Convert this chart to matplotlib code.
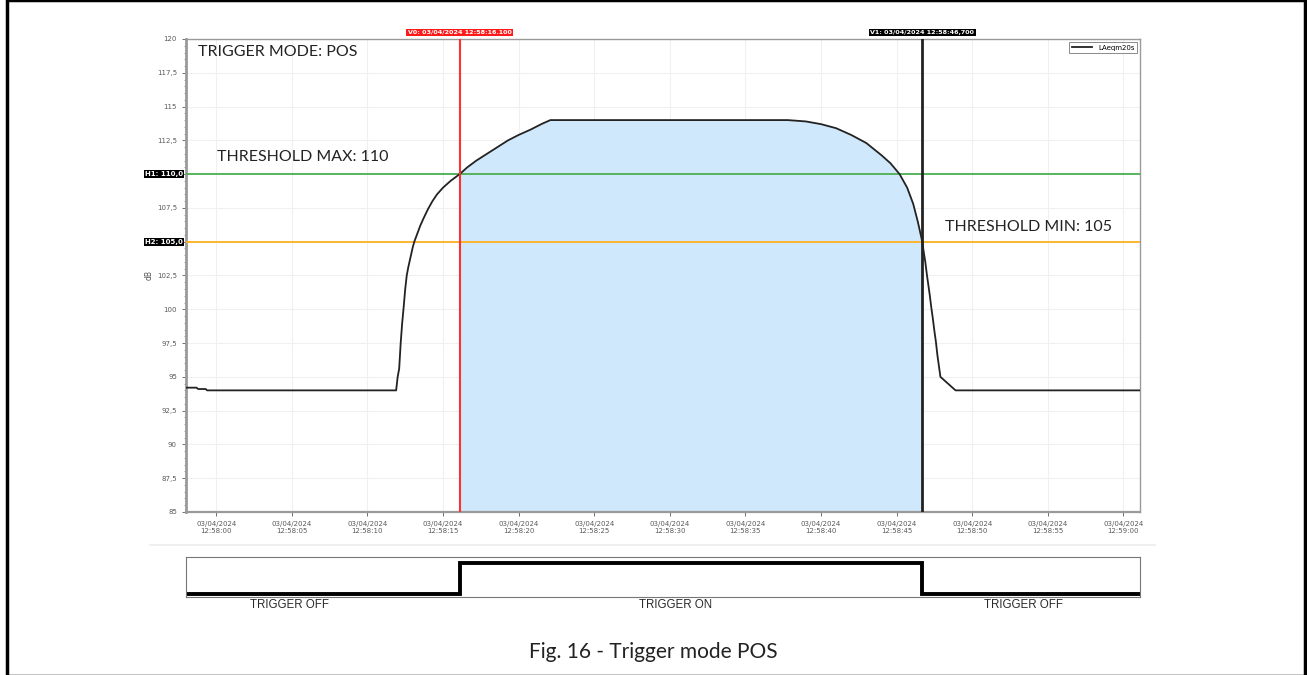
import numpy as np
import matplotlib
matplotlib.use("Agg")
import matplotlib.pyplot as plt
from matplotlib.ticker import MultipleLocator, FuncFormatter
from matplotlib.patches import Rectangle
from matplotlib.lines import Line2D

# seconds after 03/04/2024 12:58:00
t = [-2.0, -1.3, -1.2, -0.7, -0.6, 11.9, 12.0, 12.1, 12.2, 12.3, 12.4, 12.5,
     12.6, 12.7, 12.8, 12.9, 13.0, 13.1, 13.3, 13.5, 13.7, 14.0, 14.3, 14.6,
     15.0, 15.5, 16.1, 16.6, 17.2, 17.9, 18.6, 19.3, 20.0, 20.8, 21.5, 22.1,
     37.8, 39.0, 40.0, 41.0, 42.0, 43.0, 44.0, 44.6, 45.2,
     45.7, 46.1, 46.4, 46.7, 46.8, 46.9, 47.0, 47.1, 47.2, 47.3, 47.4,
     47.5, 47.6, 47.7, 47.8, 47.9, 48.9, 61.2]
laeq = [94.2, 94.2, 94.1, 94.1, 94.0, 94.0, 95.0, 95.6, 97.5, 99.0, 100.2, 101.5,
        102.5, 103.1, 103.6, 104.1, 104.6, 105.0, 105.6, 106.2, 106.7, 107.4, 108.0, 108.5,
        109.0, 109.5, 110.0, 110.5, 111.0, 111.5, 112.0, 112.5, 112.9, 113.3, 113.7, 114.0,
        114.0, 113.9, 113.7, 113.4, 112.9, 112.3, 111.4, 110.8, 110.0,
        109.0, 107.8, 106.5, 105.0, 104.2, 103.5, 102.6, 101.8, 101.0, 100.1, 99.3,
        98.4, 97.6, 96.6, 95.8, 95.0, 94.0, 94.0]

thr_max = 110
thr_min = 105
v0 = 16.1   # 12:58:16.100
v1 = 46.7   # 12:58:46.700
x_ticks = list(range(0, 61, 5))
y_ticks = [85, 87.5, 90, 92.5, 95, 97.5, 100, 102.5, 105, 107.5, 110, 112.5, 115, 117.5, 120]

W, H = 1307, 675
fig = plt.figure(figsize=(W / 100, H / 100), dpi=100)

def fx(px):
    return px / W

def fy(py):
    return 1 - py / H

# outer frame
fig.patches.append(Rectangle((fx(7), fy(676)), fx(1298), 676 / H, transform=fig.transFigure,
                             fill=False, lw=2.5, ec="black"))

ax = fig.add_axes([fx(186), fy(512), fx(1140 - 186), (512 - 39) / H])
ax.set_xlim(-2.0, 61.1)
ax.set_ylim(85, 120)

# shaded trigger-on area
tt = np.linspace(v0, v1, 400)
ax.fill_between(tt, 85, np.interp(tt, t, laeq), color="#cfe8fb", lw=0, zorder=1)

ax.plot(t, laeq, color="#222222", lw=1.3, zorder=4, label="LAeqm20s")
ax.axhline(thr_max, color="#4caf50", lw=1.3, zorder=3)
ax.axhline(thr_min, color="#ffb020", lw=1.3, zorder=3)
ax.axvline(v0, color="#ff3030", lw=1.5, zorder=5)
ax.axvline(v1, color="#222222", lw=2.0, zorder=5)

def ylab(v, p):
    # threshold values are covered by the H1/H2 markers
    if v in (thr_max, thr_min):
        return ""
    return ("%g" % v).replace(".", ",")

ax.set_xticks(x_ticks)
ax.set_yticks(y_ticks)
ax.yaxis.set_minor_locator(MultipleLocator(0.5))
ax.xaxis.set_major_formatter(FuncFormatter(
    lambda v, p: "03/04/2024\n12:%02d:%02d" % (58 + int(v) // 60, int(v) % 60)))
ax.yaxis.set_major_formatter(FuncFormatter(ylab))
ax.tick_params(axis="both", labelsize=5, colors="#5a5a5a", length=3, width=0.6)
ax.tick_params(axis="y", which="minor", length=1.5, width=0.5, colors="#777777")
ax.grid(True, color="#f0f0f0", lw=0.8, zorder=0)
ax.set_axisbelow(True)
for name, sp in ax.spines.items():
    sp.set_color("#9a9a9a")
    sp.set_linewidth(1.0)
ax.spines["left"].set_linewidth(2.0)
ax.spines["bottom"].set_linewidth(1.6)
ax.set_ylabel("dB", fontsize=5.5, color="#555555", labelpad=2)

leg = ax.legend(loc="upper right", fontsize=5, frameon=True, fancybox=False,
                handlelength=3, borderpad=0.3, borderaxespad=0.5)
leg.get_frame().set_edgecolor("#555555")
leg.get_frame().set_linewidth(0.6)

ax.text(v0, 120.3, "V0: 03/04/2024 12:58:16.100", color="white", fontsize=4.6, weight="bold",
        ha="center", va="bottom", zorder=6, bbox=dict(boxstyle="square,pad=0.2", fc="#ff1a1a", ec="none"))
ax.text(v1, 120.3, "V1: 03/04/2024 12:58:46,700", color="white", fontsize=4.6, weight="bold",
        ha="center", va="bottom", zorder=6, bbox=dict(boxstyle="square,pad=0.2", fc="black", ec="none"))
ax.text(-2.2, thr_max, "H1: 110,0", color="white", fontsize=5, weight="bold", ha="right", va="center",
        bbox=dict(boxstyle="square,pad=0.15", fc="black", ec="none"), clip_on=False)
ax.text(-2.2, thr_min, "H2: 105,0", color="white", fontsize=5, weight="bold", ha="right", va="center",
        bbox=dict(boxstyle="square,pad=0.15", fc="black", ec="none"), clip_on=False)

lab = dict(family=["Lato", "DejaVu Sans"], fontsize=11.5, color="#222222", va="center", ha="left")
fig.text(fx(198), fy(52), "TRIGGER MODE: POS", **lab)
fig.text(fx(217), fy(157), "THRESHOLD MAX: 110", **lab)
fig.text(fx(945), fy(227), "THRESHOLD MIN: 105", **lab)

# separator
fig.add_artist(Line2D([fx(150), fx(1155)], [fy(545), fy(545)], color="#ececec", lw=1.2))

# trigger state panel
ax2 = fig.add_axes([fx(186), fy(597), fx(1140 - 186), 40 / H])
ax2.set_xlim(-2.0, 61.1)
ax2.set_ylim(-0.1, 1.19)
state_t = [-2.0, v0, v1, 61.1]
state = [0, 1, 0, 0]
ax2.step(state_t, state, where="post", color="black", lw=2.8, solid_joinstyle="miter")
ax2.set_xticks([])
ax2.set_yticks([])
for sp in ax2.spines.values():
    sp.set_color("#777777")
    sp.set_linewidth(0.8)

trg = dict(family=["Liberation Sans", "DejaVu Sans"], fontsize=8.3,
           color="#2a2a2a", ha="center", va="center")
fig.text(fx(290), fy(605), "TRIGGER OFF", **trg)
fig.text(fx(676), fy(605), "TRIGGER ON", **trg)
fig.text(fx(1024), fy(605), "TRIGGER OFF", **trg)

fig.text(0.5, fy(652), "Fig. 16 - Trigger mode POS", family=["Lato", "DejaVu Sans"],
         fontsize=15, color="#222222", ha="center", va="center")

fig.savefig("out.png", dpi=100)
